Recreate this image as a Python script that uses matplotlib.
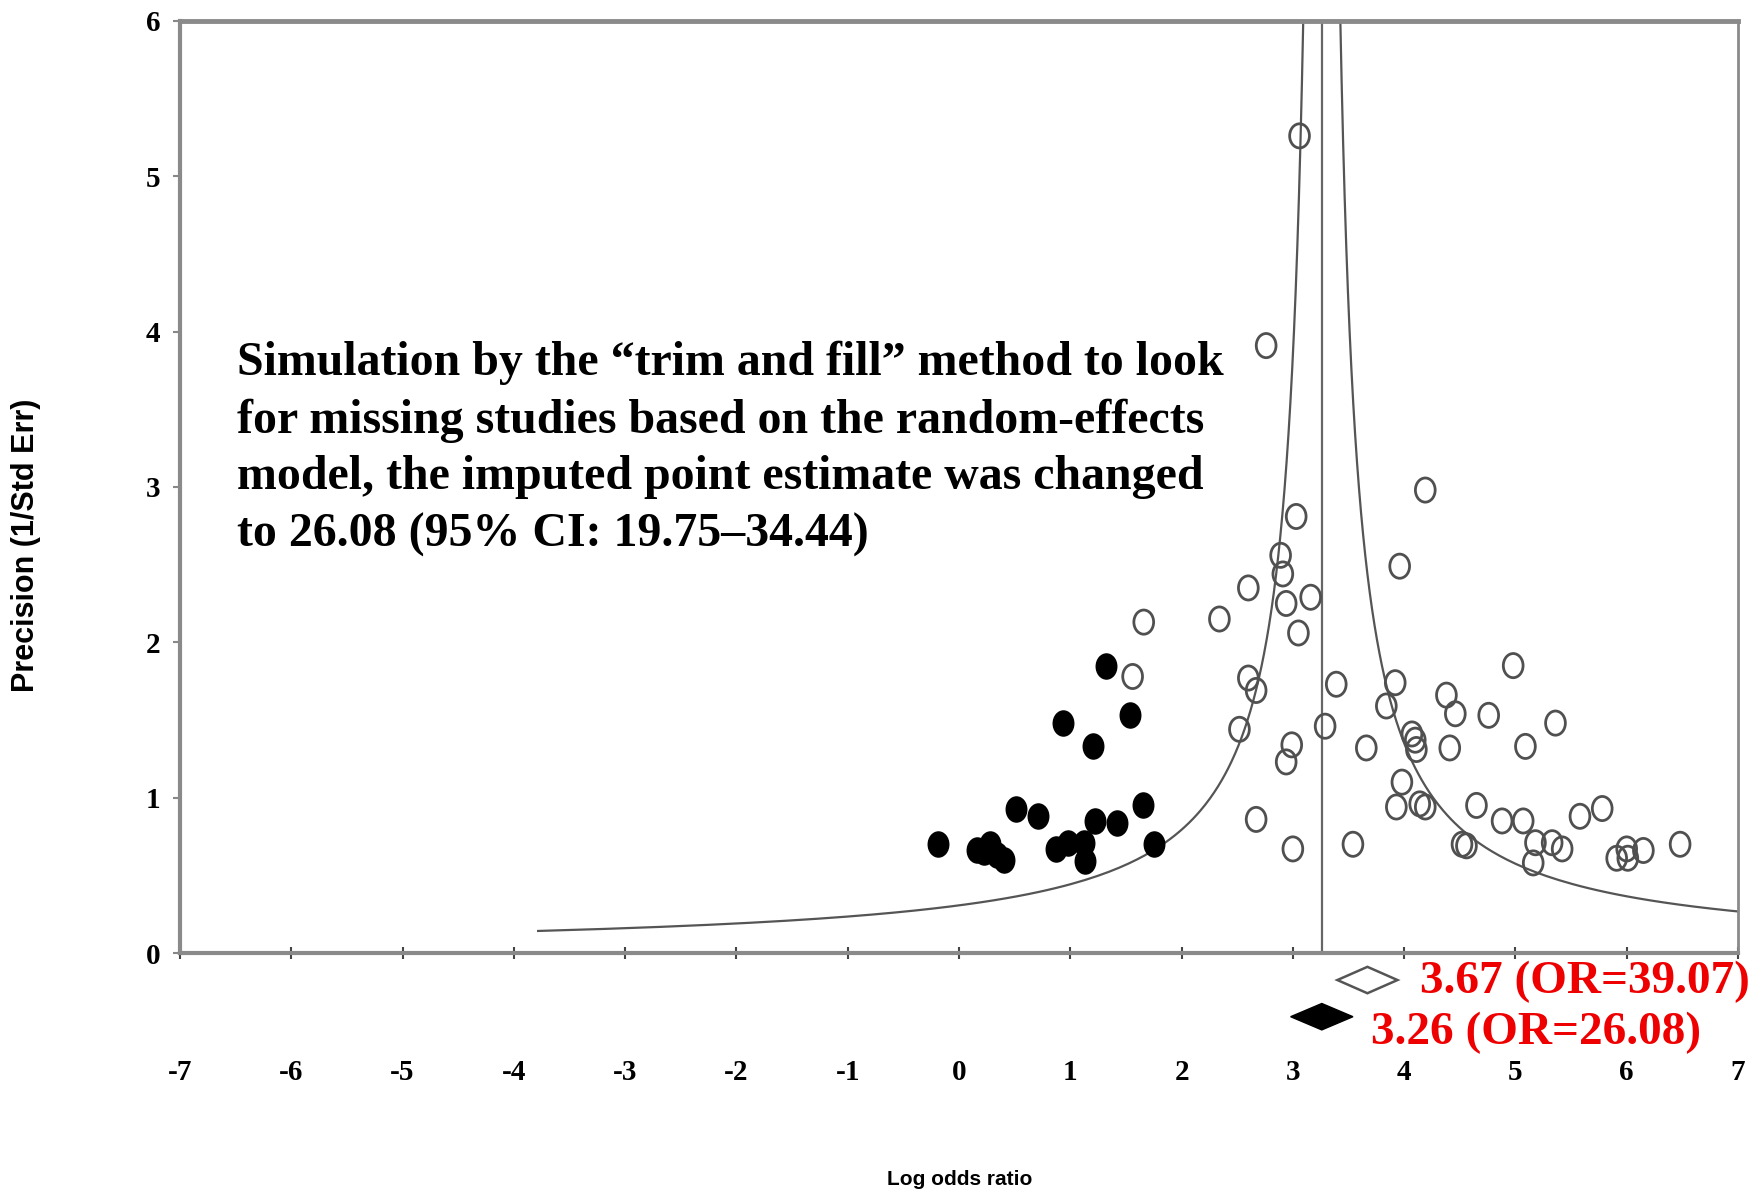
import numpy as np
import matplotlib.pyplot as plt
from matplotlib.markers import MarkerStyle
from matplotlib.transforms import Affine2D
from matplotlib.patches import Polygon

plt.rcParams['axes.unicode_minus'] = False

# observed studies (open circles): log odds ratio, precision
observed_x = [3.06, 2.76, 4.19, 3.03, 3.96, 2.89, 2.91, 2.60, 3.16, 2.94,
              2.34, 1.66, 3.05, 1.56, 2.60, 2.67, 3.39, 3.92, 4.98, 4.38,
              4.46, 4.76, 5.36, 3.84, 2.52, 3.29, 3.66, 2.99, 2.94, 4.07,
              4.10, 4.11, 4.41, 5.09, 3.98, 3.93, 4.14, 4.19, 4.65, 4.88,
              5.07, 5.58, 5.78, 2.67, 3.00, 3.54, 4.52, 4.56, 5.18, 5.33,
              5.42, 5.16, 5.91, 6.00, 6.01, 6.15, 6.48]
observed_y = [5.26, 3.91, 2.98, 2.81, 2.49, 2.56, 2.44, 2.35, 2.29, 2.25,
              2.15, 2.13, 2.06, 1.78, 1.77, 1.69, 1.73, 1.74, 1.85, 1.66,
              1.54, 1.53, 1.48, 1.59, 1.44, 1.46, 1.32, 1.34, 1.23, 1.41,
              1.37, 1.31, 1.32, 1.33, 1.10, 0.94, 0.96, 0.94, 0.95, 0.85,
              0.85, 0.88, 0.93, 0.86, 0.67, 0.70, 0.70, 0.69, 0.71, 0.71,
              0.67, 0.58, 0.61, 0.67, 0.61, 0.66, 0.70]

# imputed studies (filled circles)
imputed_x = [1.32, 0.93, 1.54, 1.20, 0.51, 0.71, 1.65, 1.22, 1.42, -0.19,
             0.16, 0.22, 0.28, 0.34, 0.40, 0.87, 0.98, 1.12, 1.13, 1.75]
imputed_y = [1.85, 1.48, 1.53, 1.33, 0.93, 0.88, 0.95, 0.85, 0.84, 0.70,
             0.66, 0.65, 0.70, 0.63, 0.60, 0.67, 0.71, 0.71, 0.59, 0.70]

# summary estimates (log OR) with 95% CI
observed_est, observed_lo, observed_hi = 3.67, 3.40, 3.94
adjusted_est, adjusted_lo, adjusted_hi = 3.26, 2.98, 3.54
observed_label = "3.67 (OR=39.07)"
adjusted_label = "3.26 (OR=26.08)"

note = ("Simulation by the \u201ctrim and fill\u201d method to look\n"
        "for missing studies based on the random-effects\n"
        "model, the imputed point estimate was changed\n"
        "to 26.08 (95% CI: 19.75\u201334.44)")

x_ticks = list(range(-7, 8))
y_ticks = list(range(0, 7))

fig = plt.figure(figsize=(17.55, 11.95), dpi=100)
ax = fig.add_axes([0.1026, 0.2025, 0.8877, 0.78])

# funnel around adjusted estimate
prec = np.linspace(0.142, 8, 600)
ax.plot(adjusted_est - 1.0 / prec, prec, color='#555555', lw=1.6)
ax.plot(adjusted_est + 1.0 / prec, prec, color='#555555', lw=1.6)
ax.axvline(adjusted_est, color='#666666', lw=1.6)

oval = MarkerStyle('o', transform=Affine2D().scale(0.9, 1.1))
ax.scatter(observed_x, observed_y, s=250, marker=oval, facecolors='none',
           edgecolors='#505050', linewidths=2.0, zorder=3)
ax.scatter(imputed_x, imputed_y, s=270, marker=oval, color='black', zorder=3)

# summary diamonds below the axis
h = 0.085
open_d = Polygon([(observed_lo, -0.174), (observed_est, -0.174 + h),
                  (observed_hi, -0.174), (observed_est, -0.174 - h)],
                 closed=True, facecolor='white', edgecolor='#555555', lw=1.8,
                 clip_on=False)
fill_d = Polygon([(adjusted_lo, -0.41), (adjusted_est, -0.41 + h),
                  (adjusted_hi, -0.41), (adjusted_est, -0.41 - h)],
                 closed=True, facecolor='black', edgecolor='black',
                 clip_on=False)
ax.add_patch(open_d)
ax.add_patch(fill_d)

ax.set_xlim(-7, 7)
ax.set_ylim(0, 6)
ax.set_xticks(x_ticks)
ax.set_yticks(y_ticks)
ax.tick_params(axis='x', direction='inout', length=8, width=1.5,
               color='#444444', pad=72)
ax.tick_params(axis='y', direction='out', length=5, width=1.5,
               color='#888888', pad=9)
for lab in ax.get_xticklabels() + ax.get_yticklabels():
    lab.set_fontfamily('Liberation Serif')
    lab.set_fontweight('bold')
    lab.set_fontsize(21)

for side in ['left', 'bottom', 'top', 'right']:
    ax.spines[side].set_color('#8a8a8a')
ax.spines['left'].set_linewidth(3)
ax.spines['bottom'].set_linewidth(3)
ax.spines['top'].set_linewidth(3.5)
ax.spines['right'].set_linewidth(2)

fig.text(0.5467, 0.013, "Log odds ratio", ha='center', va='center',
         fontsize=15, fontweight='bold', family='Liberation Sans')
fig.text(0.015, 0.544, "Precision (1/Std Err)", ha='center', va='center',
         rotation=90, fontsize=22, fontweight='bold', family='Liberation Sans')

fig.text(0.135, 0.6245, note, ha='left', va='center', fontsize=34.5,
         fontweight='bold', family='Liberation Serif', linespacing=1.38)

fig.text(0.809, 0.178, observed_label, ha='left', va='center', fontsize=34,
         fontweight='bold', family='Liberation Serif', color='#ee0000')
fig.text(0.781, 0.136, adjusted_label, ha='left', va='center', fontsize=34,
         fontweight='bold', family='Liberation Serif', color='#ee0000')

plt.savefig('out.png', dpi=100)
